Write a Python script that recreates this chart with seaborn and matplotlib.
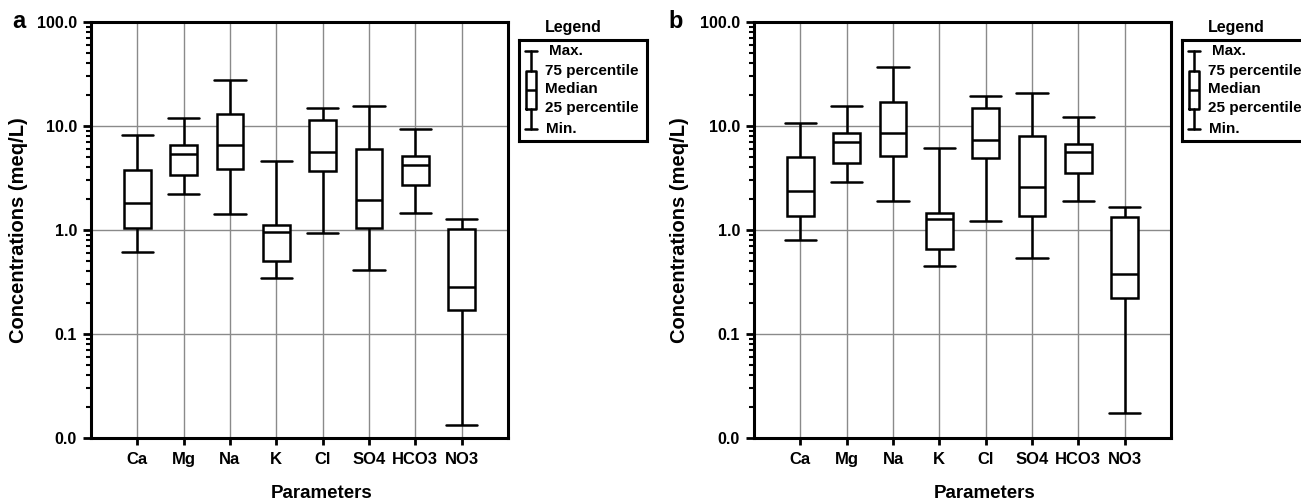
import numpy as np
import pandas as pd
import matplotlib
matplotlib.use("Agg")
import matplotlib.pyplot as plt
import seaborn as sns

# ---------------- data ----------------
params = ["Ca", "Mg", "Na", "K", "Cl", "SO4", "HCO3", "NO3"]

a_min = [0.62, 2.22, 1.43, 0.343, 0.93, 0.41, 1.45, 0.0132]
a_q1 = [1.05, 3.40, 3.89, 0.50, 3.72, 1.05, 2.69, 0.169]
a_med = [1.82, 5.35, 6.60, 0.96, 5.62, 1.96, 4.25, 0.285]
a_q3 = [3.80, 6.60, 12.9, 1.11, 11.4, 6.05, 5.11, 1.02]
a_max = [8.20, 11.9, 27.7, 4.64, 14.8, 15.7, 9.36, 1.28]

b_min = [0.81, 2.90, 1.89, 0.454, 1.23, 0.54, 1.89, 0.0175]
b_q1 = [1.37, 4.41, 5.15, 0.65, 4.89, 1.37, 3.53, 0.22]
b_med = [2.36, 6.97, 8.60, 1.27, 7.39, 2.57, 5.58, 0.378]
b_q3 = [5.00, 8.60, 17.0, 1.47, 15.0, 7.96, 6.70, 1.32]
b_max = [10.8, 15.5, 36.7, 6.10, 19.4, 20.6, 12.2, 1.68]

y_ticks = [0.01, 0.1, 1, 10, 100]
y_tick_labels = ["0.0", "0.1", "1.0", "10.0", "100.0"]

legend_items = ["Max.", "75 percentile", "Median", "25 percentile", "Min."]

# ---------------- style ----------------
sns.set_style("white")
plt.rcParams["font.family"] = ["Liberation Sans", "DejaVu Sans"]
plt.rcParams["font.weight"] = "bold"
plt.rcParams["text.color"] = "black"
plt.rcParams["axes.labelcolor"] = "black"
plt.rcParams["xtick.color"] = "black"
plt.rcParams["ytick.color"] = "black"

def to_long(mn, q1, md, q3, mx):
    rows = []
    for i, p in enumerate(params):
        for v in (mn[i], q1[i], md[i], q3[i], mx[i]):
            rows.append((p, v))
    return pd.DataFrame(rows, columns=["param", "value"])

fig = plt.figure(figsize=(13.01, 5.0), dpi=100)

axes_pos = [[91 / 1301, 62 / 500, 417 / 1301, 416 / 500],
            [754 / 1301, 62 / 500, 417 / 1301, 416 / 500]]
leg_pos = [[519 / 1301, 1 - 141 / 500, 128 / 1301, 101 / 500],
           [1182 / 1301, 1 - 141 / 500, 128 / 1301, 101 / 500]]
letters = ["a", "b"]
letter_x = [12 / 1301, 668 / 1301]
datasets = [(a_min, a_q1, a_med, a_q3, a_max), (b_min, b_q1, b_med, b_q3, b_max)]
ylab_x = [-0.151, -0.156]

for k in range(2):
    ax = fig.add_axes(axes_pos[k])
    df = to_long(*datasets[k])
    sns.boxplot(data=df, x="param", y="value", order=params, ax=ax,
                log_scale=True, whis=(0, 100), width=0.58, color="white",
                saturation=1, linecolor="black", linewidth=1.8, fliersize=0,
                capwidths=0.68)
    ax.set_ylim(0.01, 100)
    ax.set_xlim(-1, 8)
    ax.set_yticks(y_ticks)
    ax.set_yticklabels(y_tick_labels)
    ax.set_xticks(range(len(params)))
    ax.set_xticklabels(params)
    ax.set_axisbelow(True)
    ax.grid(True, which="major", axis="both", color="#8a8a8a", linewidth=1.0)
    ax.grid(False, which="minor")
    for s in ax.spines.values():
        s.set_visible(True)
        s.set_color("black")
        s.set_linewidth(2.2)
    ax.tick_params(axis="y", which="major", direction="out", length=6, width=2,
                   labelsize=11.5, pad=4, left=True, color="black",
                   labelcolor="black")
    ax.tick_params(axis="y", which="minor", direction="out", length=3.5, width=1.5,
                   left=True, color="black")
    ax.tick_params(axis="x", which="major", direction="out", length=5, width=2,
                   labelsize=12, pad=5, bottom=True, color="black",
                   labelcolor="black")
    for t in ax.get_xticklabels() + ax.get_yticklabels():
        t.set_fontweight("bold")
    ax.set_ylabel("Concentrations (meq/L)", fontsize=14.5, fontweight="bold",
                  color="black")
    ax.set_xlabel("Parameters", fontsize=13.5, fontweight="bold", color="black")
    ax.yaxis.set_label_coords(ylab_x[k], 0.5)
    ax.xaxis.set_label_coords(0.554, -0.112)

    fig.text(letter_x[k], 1 - 28 / 500, letters[k], fontsize=17,
             fontweight="bold", va="baseline", ha="left", color="black")

    # ---- legend panel ----
    lax = fig.add_axes(leg_pos[k])
    lax.set_xlim(0, 1)
    lax.set_ylim(0, 1)
    lax.set_xticks([])
    lax.set_yticks([])
    for s in lax.spines.values():
        s.set_visible(True)
        s.set_color("black")
        s.set_linewidth(2.2)
    icon = [{"whislo": 0.122, "q1": 0.32, "med": 0.505, "q3": 0.696,
             "whishi": 0.894, "fliers": []}]
    lax.bxp(icon, positions=[0.094], widths=0.08, capwidths=0.09,
            showfliers=False, manage_ticks=False,
            boxprops=dict(color="black", linewidth=1.8),
            medianprops=dict(color="black", linewidth=1.8),
            whiskerprops=dict(color="black", linewidth=1.8),
            capprops=dict(color="black", linewidth=1.8))
    item_x = [0.234, 0.203, 0.203, 0.203, 0.211]
    item_y = [0.894, 0.696, 0.515, 0.33, 0.122]
    for txt, tx, ty in zip(legend_items, item_x, item_y):
        lax.text(tx, ty, txt, fontsize=11, fontweight="bold", color="black",
                 va="center", ha="left", transform=lax.transAxes)
    lax.text(0.203, 1.12, "Legend", fontsize=11.5, fontweight="bold",
             color="black", va="center", ha="left", transform=lax.transAxes)

fig.savefig("out.png", dpi=100)
